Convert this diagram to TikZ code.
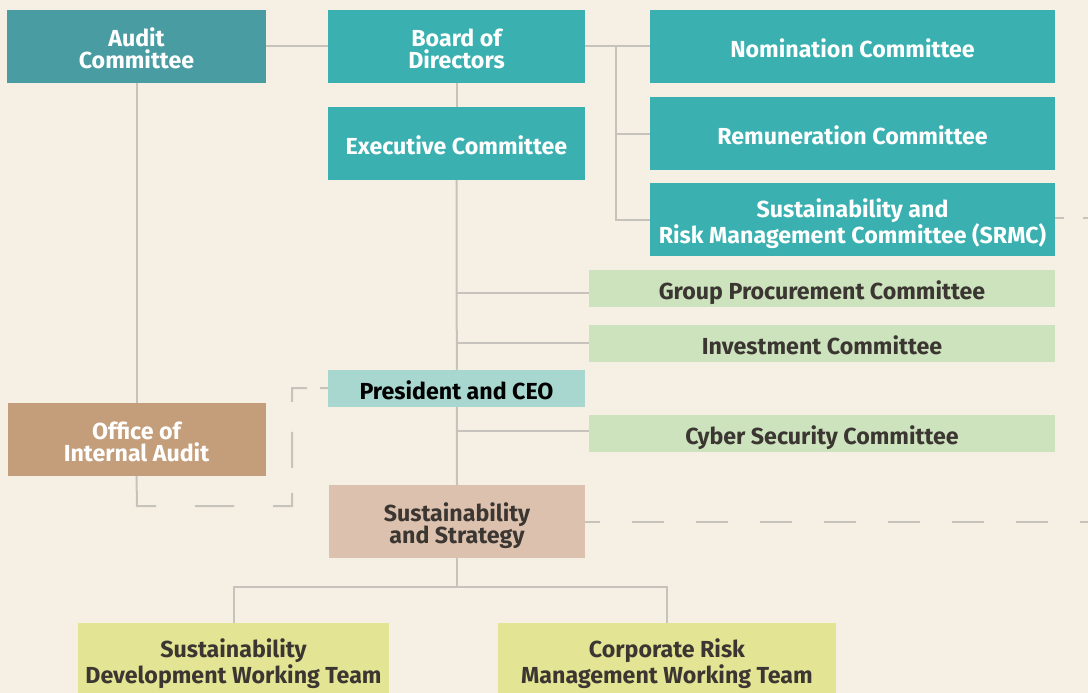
\documentclass[tikz,border=0pt]{standalone}
\usepackage{fontspec}
\setmainfont{Fira Sans}
\usetikzlibrary{backgrounds}
\definecolor{bgcol}{HTML}{F6EFE3}
\definecolor{auditcol}{HTML}{4A9CA3}
\definecolor{tealcol}{HTML}{3AB0B0}
\definecolor{prescol}{HTML}{A7D7CE}
\definecolor{greencol}{HTML}{CDE3BE}
\definecolor{oiacol}{HTML}{C49E7A}
\definecolor{sscol}{HTML}{DCC2AE}
\definecolor{yellowcol}{HTML}{E3E594}
\definecolor{linecol}{HTML}{C6C2BC}
\definecolor{darktext}{HTML}{3B3631}
\newcommand{\mytop}{\rule{0pt}{27pt}}
\newcommand{\mybot}{\rule[-5pt]{0pt}{5pt}}
\newcommand{\myone}{\rule[-5pt]{0pt}{32pt}}
\lineskiplimit=-100pt
\tikzset{
  box/.style={rectangle, inner sep=0pt, align=center, font=\bfseries\fontsize{23.2}{21.7}\selectfont},
  wide lead/.style={font=\bfseries\fontsize{23.2}{26.8}\selectfont},
  tealbox/.style={box, fill=tealcol, text=white},
  greenbox/.style={box, fill=greencol, text=darktext, minimum width=466pt, minimum height=36.5pt},
  conn/.style={draw=linecol, line width=2pt},
}
\begin{document}
\begin{tikzpicture}[x=1pt,y=-1pt]
\useasboundingbox (0,0) rectangle (1088,693);
\clip (0,0) rectangle (1088,693);
\node[tealbox, fill=auditcol, minimum width=259pt, minimum height=73pt] (audit) at (136.5,46.5) {\mytop Audit\\Committee\mybot};
\node[tealbox, minimum width=257pt, minimum height=73pt] (board) at (456.5,46.5) {\mytop Board of\\Directors\mybot};
\node[tealbox, minimum width=257pt, minimum height=73pt] (exec) at (456.5,143.5) {\myone Executive Committee};
\node[tealbox, minimum width=405pt, minimum height=73pt] (nom) at (852.5,46.5) {\myone Nomination Committee};
\node[tealbox, minimum width=405pt, minimum height=73pt] (rem) at (852.5,133.5) {\myone Remuneration Committee};
\node[tealbox, minimum width=405pt, minimum height=73pt, wide lead] (srmc) at (852.5,219.5) {\mytop Sustainability and\\Risk Management Committee (SRMC)\mybot};
\node[greenbox] (gp) at (822,288.3) {\myone Group Procurement Committee};
\node[greenbox] (inv) at (822,343.3) {\myone Investment Committee};
\node[box, fill=prescol, text=black, minimum width=257pt, minimum height=36.5pt] (pres) at (456.5,388.3) {\myone President and CEO};
\node[greenbox] (cyber) at (822,433.3) {\myone Cyber Security Committee};
\node[box, fill=oiacol, text=white, minimum width=258pt, minimum height=73pt] (oia) at (136.5,439.5) {\mytop Office of\\Internal Audit\mybot};
\node[box, fill=sscol, text=darktext, minimum width=256pt, minimum height=73pt] (sust) at (457,521.5) {\mytop Sustainability\\and Strategy\mybot};
\node[box, fill=yellowcol, text=darktext, minimum width=311pt, minimum height=73pt, wide lead] (sdwt) at (233.5,659.5) {\mytop Sustainability\\Development Working Team\mybot};
\node[box, fill=yellowcol, text=darktext, minimum width=338pt, minimum height=73pt, wide lead] (crmwt) at (667,659.5) {\mytop Corporate Risk\\Management Working Team\mybot};
\coordinate (bx) at (616,46.5);
\coordinate (t) at (457,587);
\coordinate (c1) at (137,506);
\coordinate (c2) at (292,506);
\coordinate (c3) at (292,388);
\coordinate (rend1) at (1088,218);
\coordinate (rend2) at (1088,521.5);
\begin{scope}[on background layer]
\fill[bgcol] (0,0) rectangle (1088,693);
\draw[conn] (audit.east) -- (board.west);
\draw[conn] (board.east) -- (nom.west);
\draw[conn] (bx) |- (rem.west);
\draw[conn] (bx) |- (srmc.west);
\draw[conn] (board.south) -- (exec.north);
\draw[conn] (exec.south) -- (sust.north);
\draw[conn] ([yshift=-5pt]gp.west) -- ([yshift=-5pt]gp.west -| exec.south);
\draw[conn] (inv.west) -- (inv.west -| exec.south);
\draw[conn] ([yshift=2pt]cyber.west) -- ([yshift=2pt]cyber.west -| exec.south);
\draw[conn] (audit.south) -- (oia.north);
\draw[conn, dash pattern=on 49pt off 39pt on 39pt off 39pt on 32pt off 25pt on 36pt off 30pt on 29pt off 13pt on 8pt off 100pt] (oia.south) -- (c1) -- (c2) -- (c3) -- (c3 -| pres.west);
\draw[conn, dash pattern=on 9pt off 19pt on 40pt off 40pt] (srmc.east |- rend1) -- (rend1);
\draw[conn, dash pattern=on 32pt off 32pt, dash phase=17pt] (sust.east |- rend2) -- (rend2);
\draw[conn] (sust.south) -- (t);
\draw[conn] (sdwt.north) |- (t) -| (crmwt.north);
\end{scope}
\end{tikzpicture}
\end{document}
